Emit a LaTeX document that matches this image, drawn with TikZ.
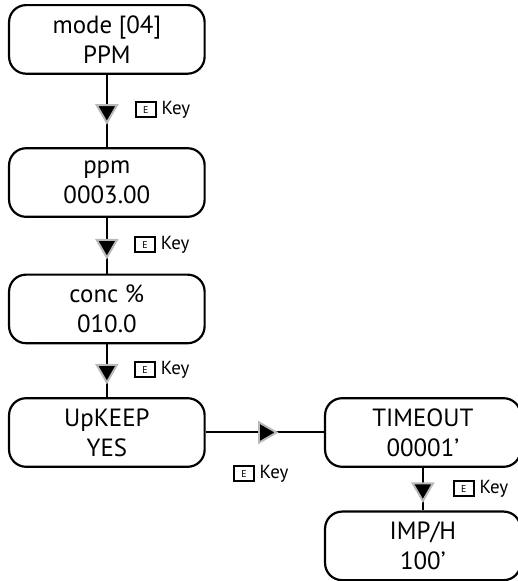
\documentclass[tikz,border=0pt]{standalone}
\usepackage{fontspec}
\setmainfont{PT Sans}
\usetikzlibrary{shapes.geometric}
\newcommand{\ekey}{{\setlength{\fboxrule}{1.8pt}\setlength{\fboxsep}{0pt}\fbox{\makebox[18pt][c]{\rule[-1.5pt]{0pt}{13pt}\raisebox{1.5pt}{\fontsize{10}{10}\selectfont E}}}}\hspace{5pt}Key}
\begin{document}
\begin{tikzpicture}[
  box/.style={draw, line width=2.2pt, rounded corners=0.6cm, minimum width=6.9cm, minimum height=2.42cm, align=center, font=\fontsize{25}{30}\selectfont},
  tri/.style={isosceles triangle, isosceles triangle apex angle=60, fill=black, draw=gray!55, line width=2pt, inner sep=0pt, minimum height=0.62cm},
  lbl/.style={anchor=west, inner sep=0pt, font=\fontsize{19}{19}\selectfont},
  link/.style={line width=2pt}
]
\useasboundingbox (0,0) rectangle (18.27,-20.50);
\node[box] (a) at (3.77,-1.39) {mode [04]\\PPM};
\node[box] (b) at (3.77,-6.44) {ppm\\0003.00};
\node[box] (c) at (3.77,-10.90) {conc \%\\010.0};
\node[box] (d) at (3.77,-15.26) {UpKEEP\\YES};
\node[box] (e) at (14.92,-15.26) {TIMEOUT\\00001’};
\node[box] (f) at (14.92,-19.26) {IMP/H\\100’};
\draw[link] (a) -- node[tri, shape border rotate=-90] (ta) {} (b);
\draw[link] (b) -- node[tri, shape border rotate=-90] (tb) {} (c);
\draw[link] (c) -- node[tri, shape border rotate=-90] (tc) {} (d);
\draw[link] (d) -- node[tri] (td) {} (e);
\draw[link] (e) -- node[tri, shape border rotate=-90] (te) {} (f);
\node[lbl] (ka) at (4.76,-3.88) {\ekey};
\node[lbl] (kb) at (4.73,-8.64) {\ekey};
\node[lbl] (kc) at (4.73,-13.05) {\ekey};
\node[lbl] (kd) at (8.22,-16.72) {\ekey};
\node[lbl] (ke) at (15.98,-17.25) {\ekey};
\end{tikzpicture}
\end{document}
